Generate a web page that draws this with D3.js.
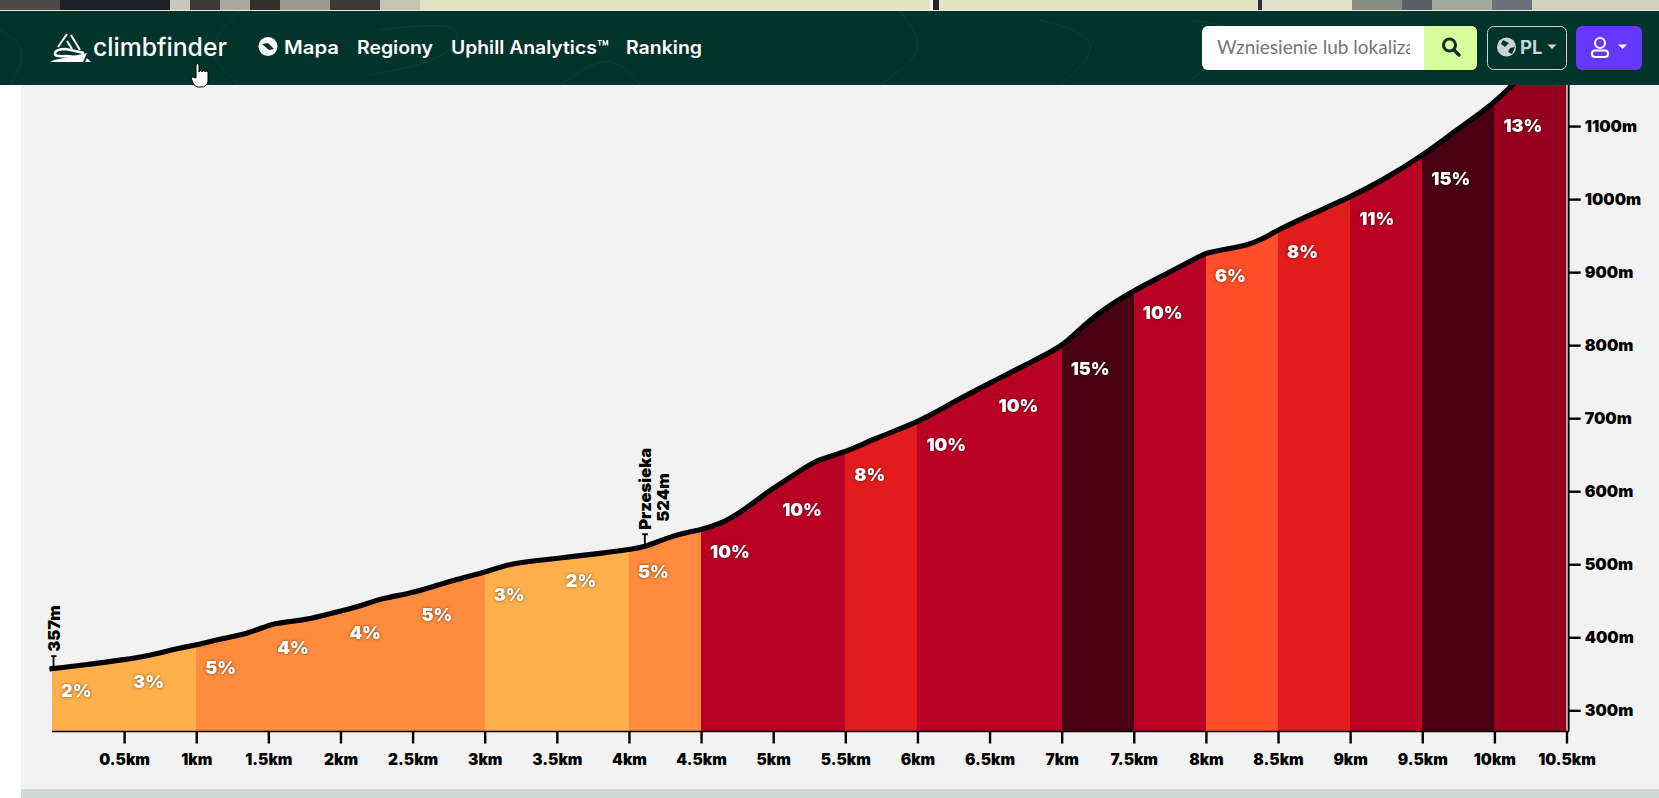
<!DOCTYPE html>
<html>
<head>
<meta charset="utf-8">
<script src="https://cdn.jsdelivr.net/npm/d3@7"></script>
<style>
  html, body { margin: 0; padding: 0; background: #fff; overflow: hidden; }
  svg { display: block; }
  text { font-family: Inter, "Noto Sans", sans-serif; }
  .axis text { font-weight: 900; font-size: 15.5px; fill: #000; }
  .axis.right text { font-size: 16px; }
  .grade { font-weight: 900; font-size: 18px; fill: #fff; filter: drop-shadow(0 0 1.5px rgba(0,0,0,.55)); }
  .mark { font-weight: 900; font-size: 16.5px; fill: #000; }
  .nav { font-weight: 600; font-size: 18px; fill: #fff; }
</style>
</head>
<body>
<svg id="chart" width="1659" height="798"></svg>
<script>
// elevation profile, km / metres
const profileKm = [0, 0.26, 0.49, 0.68, 0.89, 1, 1.19, 1.36, 1.53, 1.63, 1.79, 2, 2.14, 2.3, 2.46, 2.62, 2.78, 3,
  3.18, 3.36, 3.59, 3.8, 4, 4.11, 4.19, 4.33, 4.5, 4.63, 4.77, 4.98, 5.19, 5.3, 5.5, 5.7, 6, 6.23, 6.5, 6.8, 7,
  7.11, 7.27, 7.5, 7.73, 7.96, 8, 8.12, 8.28, 8.39, 8.5, 8.75, 9, 9.21, 9.5, 9.74, 10, 10.13, 10.5];
const profileElev = [357, 363, 369, 375, 386, 389, 399, 405, 419, 421, 425, 436, 443, 454, 459, 468, 478, 489,
  501, 505, 510, 515, 520, 524, 530, 541, 547, 555, 570, 602, 628, 643, 653, 672, 694, 720, 748, 778, 798,
  819, 847, 875, 898, 922, 926, 931, 936, 945, 958, 981, 1003, 1024, 1059, 1095, 1131, 1158, 1227];

// one entry per 0.5km stretch
const gradeLabels = ["2%", "3%", "5%", "4%", "4%", "5%", "3%", "2%", "5%", "10%", "10%", "8%", "10%", "10%", "15%",
  "10%", "6%", "8%", "11%", "15%", "13%"];
const gradeColors = ["#ffb04c", "#ffb04c", "#ff8b3d", "#ff8b3d", "#ff8b3d", "#ff8b3d", "#ffb04c", "#ffb04c", "#ff8b3d",
  "#b90025", "#b90025", "#e21c1c", "#b90025", "#b90025", "#480012", "#b90025", "#ff4e29", "#e21c1c", "#b90025",
  "#480012", "#96001e"];

const xTicks = [0.5, 1, 1.5, 2, 2.5, 3, 3.5, 4, 4.5, 5, 5.5, 6, 6.5, 7, 7.5, 8, 8.5, 9, 9.5, 10, 10.5];
const yTicks = [300, 400, 500, 600, 700, 800, 900, 1000, 1100];

const markers = [
  { km: 0, elev: 357, lines: ["357m"] },
  { km: 4.11, elev: 524, lines: ["Przesieka", "524m"] }
];

const navItems = ["Mapa", "Regiony", "Uphill Analytics™", "Ranking"];
const navSpans = [[284, 339], [357, 433], [451, 609], [626, 702]];

const svg = d3.select("#chart");

const x = d3.scaleLinear().domain([0, 10.5]).range([52, 1566.5]);
const y = d3.scaleLinear().domain([271, 1300]).range([731.5, -20]);
const elevAt = d3.scaleLinear().domain(profileKm).range(profileElev);

const points = profileKm.map((k, i) => [k, profileElev[i]]);

// page background
svg.append("rect").attr("x", 21).attr("y", 0).attr("width", 1638).attr("height", 798).attr("fill", "#f2f2f2");
svg.append("rect").attr("x", 21).attr("y", 789).attr("width", 1638).attr("height", 9).attr("fill", "#cddad7");

// coloured stretches, clipped to the area under the profile
const area = d3.area().x(d => x(d[0])).y0(y(271)).y1(d => y(d[1])).curve(d3.curveBasis);
svg.append("clipPath").attr("id", "under").append("path").attr("d", area(points));

const seg = svg.append("g").attr("clip-path", "url(#under)");
seg.selectAll("rect").data(gradeColors).join("rect")
  .attr("x", (d, i) => x(i * 0.5))
  .attr("width", (d, i) => x((i + 1) * 0.5) - x(i * 0.5))
  .attr("y", y(1300))
  .attr("height", y(271) - y(1300))
  .attr("fill", d => d)
  .attr("shape-rendering", "crispEdges");

// right hand strip next to the axis
svg.append("rect").attr("x", x(10.5)).attr("y", 85).attr("width", 1.5).attr("height", y(271) - 85).attr("fill", "#c8c8c8");

// profile line
svg.append("path")
  .attr("d", d3.line().x(d => x(d[0])).y(d => y(d[1])).curve(d3.curveBasis)(points))
  .attr("fill", "none").attr("stroke", "#000").attr("stroke-width", 5.2).attr("stroke-linecap", "square");

// axes
const xAxis = d3.axisBottom(x).tickValues(xTicks).tickSize(12).tickPadding(8).tickFormat(d => d + "km");
const gx = svg.append("g").attr("class", "axis").attr("transform", `translate(0,${y(271)})`).call(xAxis);
gx.select(".domain").attr("stroke", "#000").attr("stroke-width", 1.6).attr("d", `M${x(0)},0H1569`);
gx.selectAll(".tick line").attr("stroke", "#000").attr("stroke-width", 2.4);
gx.selectAll(".tick text").attr("dy", "0.9em");

const yAxis = d3.axisRight(y).tickValues(yTicks).tickSize(12).tickPadding(4).tickFormat(d => d + "m");
const gy = svg.append("g").attr("class", "axis right").attr("transform", "translate(1568.7,0)").call(yAxis);
gy.select(".domain").attr("stroke", "#000").attr("stroke-width", 1.8).attr("d", `M0,${y(271)}V0`);
gy.selectAll(".tick line").attr("stroke", "#000").attr("stroke-width", 2.4);

// gradient labels
svg.selectAll("text.grade").data(gradeLabels).join("text")
  .attr("class", "grade")
  .attr("x", (d, i) => x(i * 0.5) + 9)
  .attr("y", (d, i) => y(elevAt(i * 0.5)) + 22)
  .attr("dominant-baseline", "central")
  .text(d => d);

// named points
markers.forEach(m => {
  const px = x(m.km) + (m.km === 0 ? 1.5 : 0), py = y(m.elev);
  svg.append("path").attr("d", `M${px},${py}V${py - 13}M${px - 2.5},${py - 12.5}H${px + 3}`)
    .attr("fill", "none").attr("stroke", "#000").attr("stroke-width", 1.8);
  m.lines.forEach((t, i) => {
    svg.append("text").attr("class", "mark")
      .attr("transform", `translate(${px + i * 18},${py - 17 - i * 8}) rotate(-90)`)
      .attr("dominant-baseline", "central")
      .text(t);
  });
});

// top strip (photo behind the header)
const topShades = [["#4a4a46", 0, 60], ["#1d222a", 60, 110], ["#c9cabb", 170, 20], ["#3a3b38", 190, 30],
  ["#a9aa9c", 220, 30], ["#2f302e", 250, 30], ["#9c9d90", 280, 50], ["#3a3a36", 330, 50], ["#c4c6b2", 380, 40],
  ["#e2e4c8", 420, 510], ["#20242c", 933, 6], ["#e2e4c8", 939, 320], ["#2a3038", 1258, 4], ["#dfe1c8", 1262, 90],
  ["#8a8d84", 1352, 50], ["#596068", 1402, 30], ["#a4a79c", 1432, 60], ["#6b7078", 1492, 40], ["#d0d2bc", 1532, 127]];
const photo = svg.append("g");
photo.selectAll("rect").data(topShades).join("rect")
  .attr("x", d => d[1]).attr("y", 0).attr("width", d => d[2]).attr("height", 11).attr("fill", d => d[0]);
svg.append("rect").attr("x", 0).attr("y", 10).attr("width", 1659).attr("height", 1).attr("fill", "#e8e8e0");

// header
const nav = svg.append("g");
nav.append("rect").attr("x", 0).attr("y", 11).attr("width", 1659).attr("height", 74).attr("fill", "#03342c");

// faint contour lines in the header
const contour = d3.line().curve(d3.curveBasis);
[[[0, 30], [30, 50], [10, 85]], [[240, 11], [200, 50], [240, 85]], [[380, 30], [470, 20], [450, 60], [370, 75]],
 [[560, 85], [610, 50], [640, 85]], [[1190, 20], [1260, 30], [1190, 80]], [[1040, 20], [1110, 40], [1060, 85]],
 [[900, 11], [930, 50], [880, 85]]].forEach(c => {
  nav.append("path").attr("d", contour(c)).attr("fill", "none").attr("stroke", "#0a4137").attr("stroke-width", 1);
});

// logo
nav.append("path")
  .attr("d", "M67,34L58,47M71,35L80,50M67,41L72,49")
  .attr("fill", "none").attr("stroke", "#fff").attr("stroke-width", 2);
nav.append("path")
  .attr("d", "M84,53L66,49Q56,49 55,53Q54,57 66,56L76,57")
  .attr("fill", "none").attr("stroke", "#fff").attr("stroke-width", 2.6);
nav.append("path").attr("d", "M50,62L54,60L87,53L83,62Z").attr("fill", "#fff");
nav.append("path").attr("d", "M87,58L91,62H85Z").attr("fill", "#fff");
nav.append("text").attr("x", 93).attr("y", 56).attr("class", "nav")
  .attr("textLength", 134).attr("lengthAdjust", "spacingAndGlyphs")
  .style("font-size", "25px").style("font-weight", 500).text("climbfinder");

// menu
nav.append("circle").attr("cx", 268).attr("cy", 46.5).attr("r", 9.5).attr("fill", "#fff");
nav.append("path").attr("d", "M262,44L268,43L274,49L269,50Z").attr("fill", "#03342c");
nav.selectAll("text.menu").data(navItems).join("text").attr("class", "nav menu")
  .attr("x", (d, i) => navSpans[i][0])
  .attr("y", 54)
  .attr("textLength", (d, i) => navSpans[i][1] - navSpans[i][0])
  .attr("lengthAdjust", "spacingAndGlyphs")
  .text(d => d);

// search box
nav.append("rect").attr("x", 1202).attr("y", 26).attr("width", 275).attr("height", 44).attr("rx", 6).attr("fill", "#fff");
nav.append("path").attr("d", "M1424,26H1471a6,6 0 0 1 6,6V64a6,6 0 0 1 -6,6H1424Z").attr("fill", "#d9ff9c");
nav.append("clipPath").attr("id", "ph").append("rect").attr("x", 1202).attr("y", 26).attr("width", 208).attr("height", 44);
nav.append("text").attr("x", 1217).attr("y", 54).attr("clip-path", "url(#ph)")
  .style("font-family", "Lato").style("font-size", "19px").attr("fill", "#757575")
  .text("Wzniesienie lub lokalizacja");
nav.append("circle").attr("cx", 1449.5).attr("cy", 45).attr("r", 6).attr("fill", "none").attr("stroke", "#03342c").attr("stroke-width", 3);
nav.append("path").attr("d", "M1454,50L1459,55").attr("stroke", "#03342c").attr("stroke-width", 3.4).attr("stroke-linecap", "round");

// language
nav.append("rect").attr("x", 1487.5).attr("y", 26.5).attr("width", 79).attr("height", 43).attr("rx", 6)
  .attr("fill", "none").attr("stroke", "#c9d4cf").attr("stroke-width", 1);
nav.append("circle").attr("cx", 1506.5).attr("cy", 47).attr("r", 9.5).attr("fill", "#c9d4cf");
nav.append("path").attr("d", "M1503,40L1509,43L1505,47L1501,44ZM1510,48L1515,47L1512,54L1508,52Z").attr("fill", "#03342c");
nav.append("text").attr("x", 1520).attr("y", 54).style("font-size", "18.5px").style("font-weight", 700).attr("fill", "#c9d4cf").text("PL");
nav.append("path").attr("d", "M1547.5,44.5H1556.5L1552,49Z").attr("fill", "#c9d4cf");

// user button
nav.append("rect").attr("x", 1576).attr("y", 26).attr("width", 66).attr("height", 44).attr("rx", 6).attr("fill", "#6537ff");
nav.append("circle").attr("cx", 1600).attr("cy", 43).attr("r", 5).attr("fill", "none").attr("stroke", "#fff").attr("stroke-width", 2);
nav.append("rect").attr("x", 1592).attr("y", 50.5).attr("width", 16).attr("height", 6.5).attr("rx", 3).attr("fill", "none").attr("stroke", "#fff").attr("stroke-width", 2);
nav.append("path").attr("d", "M1618,44.5H1627L1622.5,49Z").attr("fill", "#fff");

// mouse pointer
svg.append("path")
  .attr("d", "M196,65a1.5,1.5 0 0 1 3,0V72a1.4,1.4 0 0 1 3,0a1.4,1.4 0 0 1 3,0a1.4,1.4 0 0 1 3,1V81Q207,87 201,87H198Q195,87 193,83L191,78Q192,76 196,78Z")
  .attr("fill", "#fff").attr("stroke", "#000").attr("stroke-width", 1);
</script>
</body>
</html>
